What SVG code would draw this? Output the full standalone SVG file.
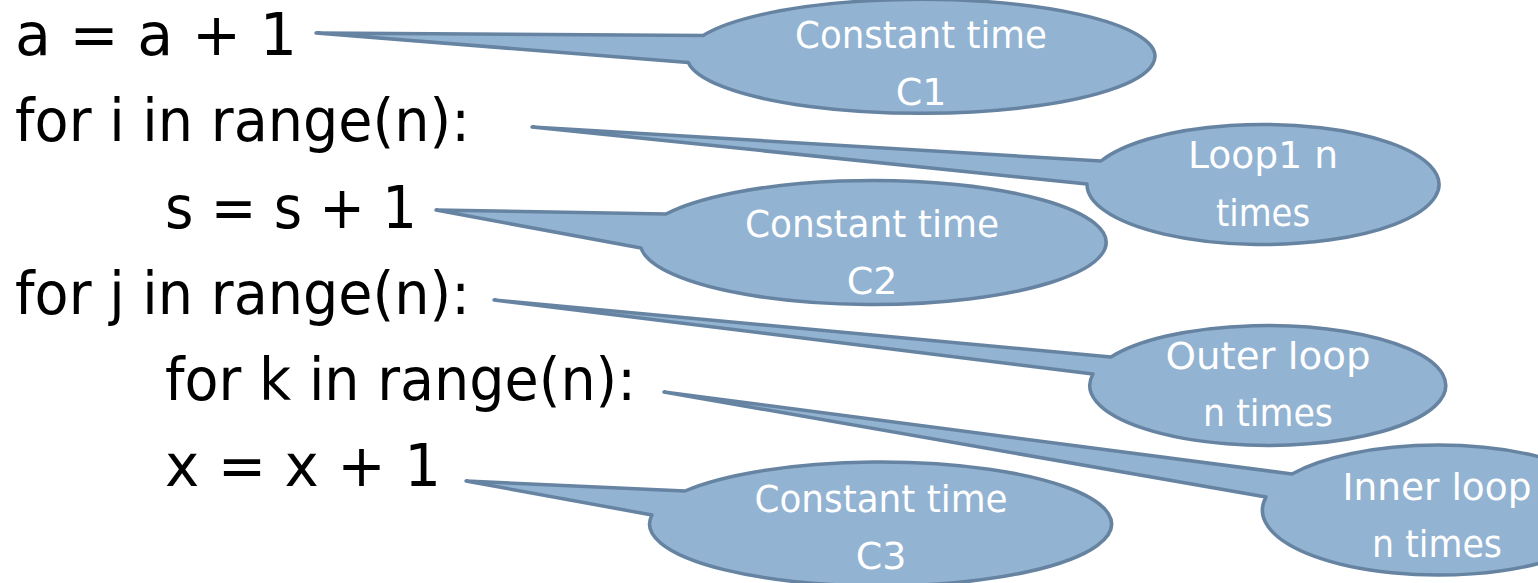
<svg xmlns="http://www.w3.org/2000/svg" width="1538" height="583" viewBox="0 0 1538 583">
  <style>
    .code { font-family: "DejaVu Sans", "Liberation Sans", sans-serif; font-size: 58px; fill: #000; }
    .callout path { fill: #93B3D2; stroke: #6684A2; stroke-width: 3.5; stroke-linejoin: round; }
    .callout text { font-family: "DejaVu Sans", "Liberation Sans", sans-serif; font-size: 38px; fill: #fff; text-anchor: middle; }
  </style>
  <rect width="1538" height="583" fill="#fff"/>

  <!-- source lines -->
  <g id="code">
    <text class="code" x="15" y="55" textLength="282" lengthAdjust="spacingAndGlyphs">a = a + 1</text>
    <text class="code" x="15" y="141" textLength="455" lengthAdjust="spacingAndGlyphs">for i in range(n):</text>
    <text class="code" x="165" y="228" textLength="252" lengthAdjust="spacingAndGlyphs">s = s + 1</text>
    <text class="code" x="15" y="314" textLength="455" lengthAdjust="spacingAndGlyphs">for j in range(n):</text>
    <text class="code" x="165" y="400" textLength="471" lengthAdjust="spacingAndGlyphs">for k in range(n):</text>
    <text class="code" x="165" y="486" textLength="276" lengthAdjust="spacingAndGlyphs">x = x + 1</text>
  </g>

  <!-- callout bubbles: each is an ellipse with a wedge pointing at its line -->
  <g id="connectors">
    <g id="callout-c1" class="callout">
      <path d="M703.1,35.5 L316,33 L688.3,62.5 A234,57 0 1 0 703.1,35.5 Z"/>
      <text x="921" y="48" textLength="252" lengthAdjust="spacingAndGlyphs">Constant time</text>
      <text x="921" y="105">C1</text>
    </g>
    <g id="callout-loop1" class="callout">
      <path d="M1101,161 L532,127 L1087,184 A176,60 0 1 0 1101,161 Z"/>
      <text x="1263" y="168" textLength="150" lengthAdjust="spacingAndGlyphs">Loop1 n</text>
      <text x="1263" y="226" textLength="94" lengthAdjust="spacingAndGlyphs">times</text>
    </g>
    <g id="callout-c2" class="callout">
      <path d="M666,214 L436,210 L641,248 A233,62 0 1 0 666,214 Z"/>
      <text x="872" y="237" textLength="254" lengthAdjust="spacingAndGlyphs">Constant time</text>
      <text x="872" y="294">C2</text>
    </g>
    <g id="callout-outer" class="callout">
      <path d="M1111,357 L494,300 L1093,374 A178,60 0 1 0 1111,357 Z"/>
      <text x="1268" y="369" textLength="205" lengthAdjust="spacingAndGlyphs">Outer loop</text>
      <text x="1268" y="426" textLength="130" lengthAdjust="spacingAndGlyphs">n times</text>
    </g>
    <g id="callout-inner" class="callout">
      <path d="M1292,474 L664,392 L1266,497 A176,65 0 1 0 1292,474 Z"/>
      <text x="1437" y="500" textLength="189" lengthAdjust="spacingAndGlyphs">Inner loop</text>
      <text x="1437" y="557" textLength="130" lengthAdjust="spacingAndGlyphs">n times</text>
    </g>
    <g id="callout-c3" class="callout">
      <path d="M685,491 L466,481 L652,515 A231,62 0 1 0 685,491 Z"/>
      <text x="881" y="512" textLength="253" lengthAdjust="spacingAndGlyphs">Constant time</text>
      <text x="881" y="569">C3</text>
    </g>
  </g>
</svg>
